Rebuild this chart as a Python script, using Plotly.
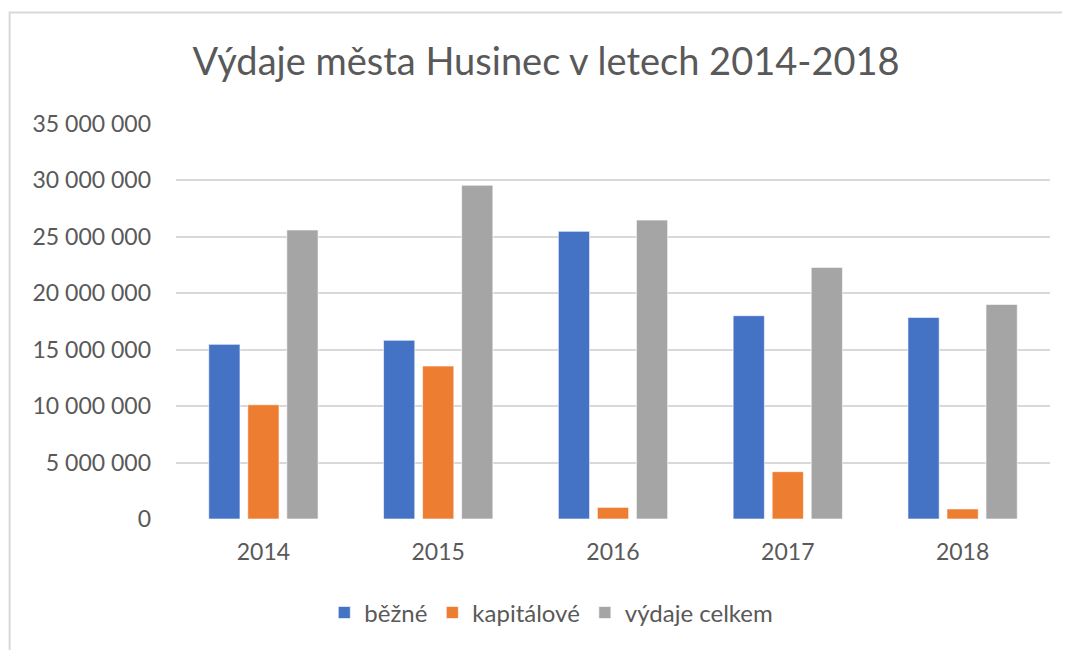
import plotly.graph_objects as go

years = ["2014", "2015", "2016", "2017", "2018"]
bezne = [15470000, 15830000, 25480000, 18010000, 17860000]
kapitalove = [10120000, 13550000, 1030000, 4190000, 890000]
celkem = [25600000, 29560000, 26480000, 22290000, 19010000]
series_names = ["běžné", "kapitálové", "výdaje celkem"]
colors = ["#4472C4", "#ED7D31", "#A5A5A5"]
tick_vals = [0, 5000000, 10000000, 15000000, 20000000, 25000000, 30000000, 35000000]
tick_text = ["0", "5 000 000", "10 000 000", "15 000 000", "20 000 000",
             "25 000 000", "30 000 000", "35 000 000"]

OFF = 8  # page body margin
W, H = 1070 - OFF, 650 - OFF
YMAX = 35080000
pxm = 395.5 / 35000000  # pixels per unit
L, R = 175.5 - OFF, 1050 - OFF
B = 519 - OFF
T = B - YMAX * pxm

fig = go.Figure()
for name, vals, col in zip(series_names, [bezne, kapitalove, celkem], colors):
    fig.add_trace(go.Bar(x=years, y=vals, name=name,
                         marker=dict(color=col, line=dict(color="rgba(255,255,255,0.6)", width=1))))

font = "Lato, 'Open Sans', sans-serif"
pw, ph = R - L, B - T
def px(x): return (x - OFF - L) / pw
def py(y): return (B - (y - OFF)) / ph

fig.update_layout(
    width=W, height=H,
    margin=dict(l=L, r=W - R, t=T, b=H - B, autoexpand=False),
    paper_bgcolor="white", plot_bgcolor="white",
    barmode="group", bargap=0.33, bargroupgap=0.2,
    title=dict(text="Výdaje města Husinec v letech 2014-2018",
               font=dict(family=font, size=38, color="#595959"),
               x=(546 - OFF) / W, xref="container", xanchor="center",
               y=1 - (62 - OFF) / H, yref="container", yanchor="middle"),
    font=dict(family=font, color="#595959"),
    legend=dict(orientation="h", x=px(551), xanchor="center",
                y=py(613), yanchor="middle",
                font=dict(family=font, size=24, color="#595959"),
                itemwidth=30, traceorder="normal"),
    xaxis=dict(showgrid=False, showline=False, zeroline=False,
               tickfont=dict(family=font, size=23, color="#595959"),
               ticks="", ticklabelstandoff=17),
    yaxis=dict(range=[0, YMAX], tickvals=tick_vals, ticktext=tick_text,
               showgrid=True, gridcolor="#D9D9D9", gridwidth=1.5,
               zeroline=False, showline=False, ticks="",
               tickfont=dict(family=font, size=23, color="#595959"),
               ticklabelstandoff=24),
    shapes=[dict(type="rect", xref="paper", yref="paper",
                 x0=px(9), x1=px(1085), y0=py(12), y1=py(665),
                 line=dict(color="#D9D9D9", width=2), fillcolor="rgba(0,0,0,0)",
                 layer="below")],
)

fig.write_html("out.html")
